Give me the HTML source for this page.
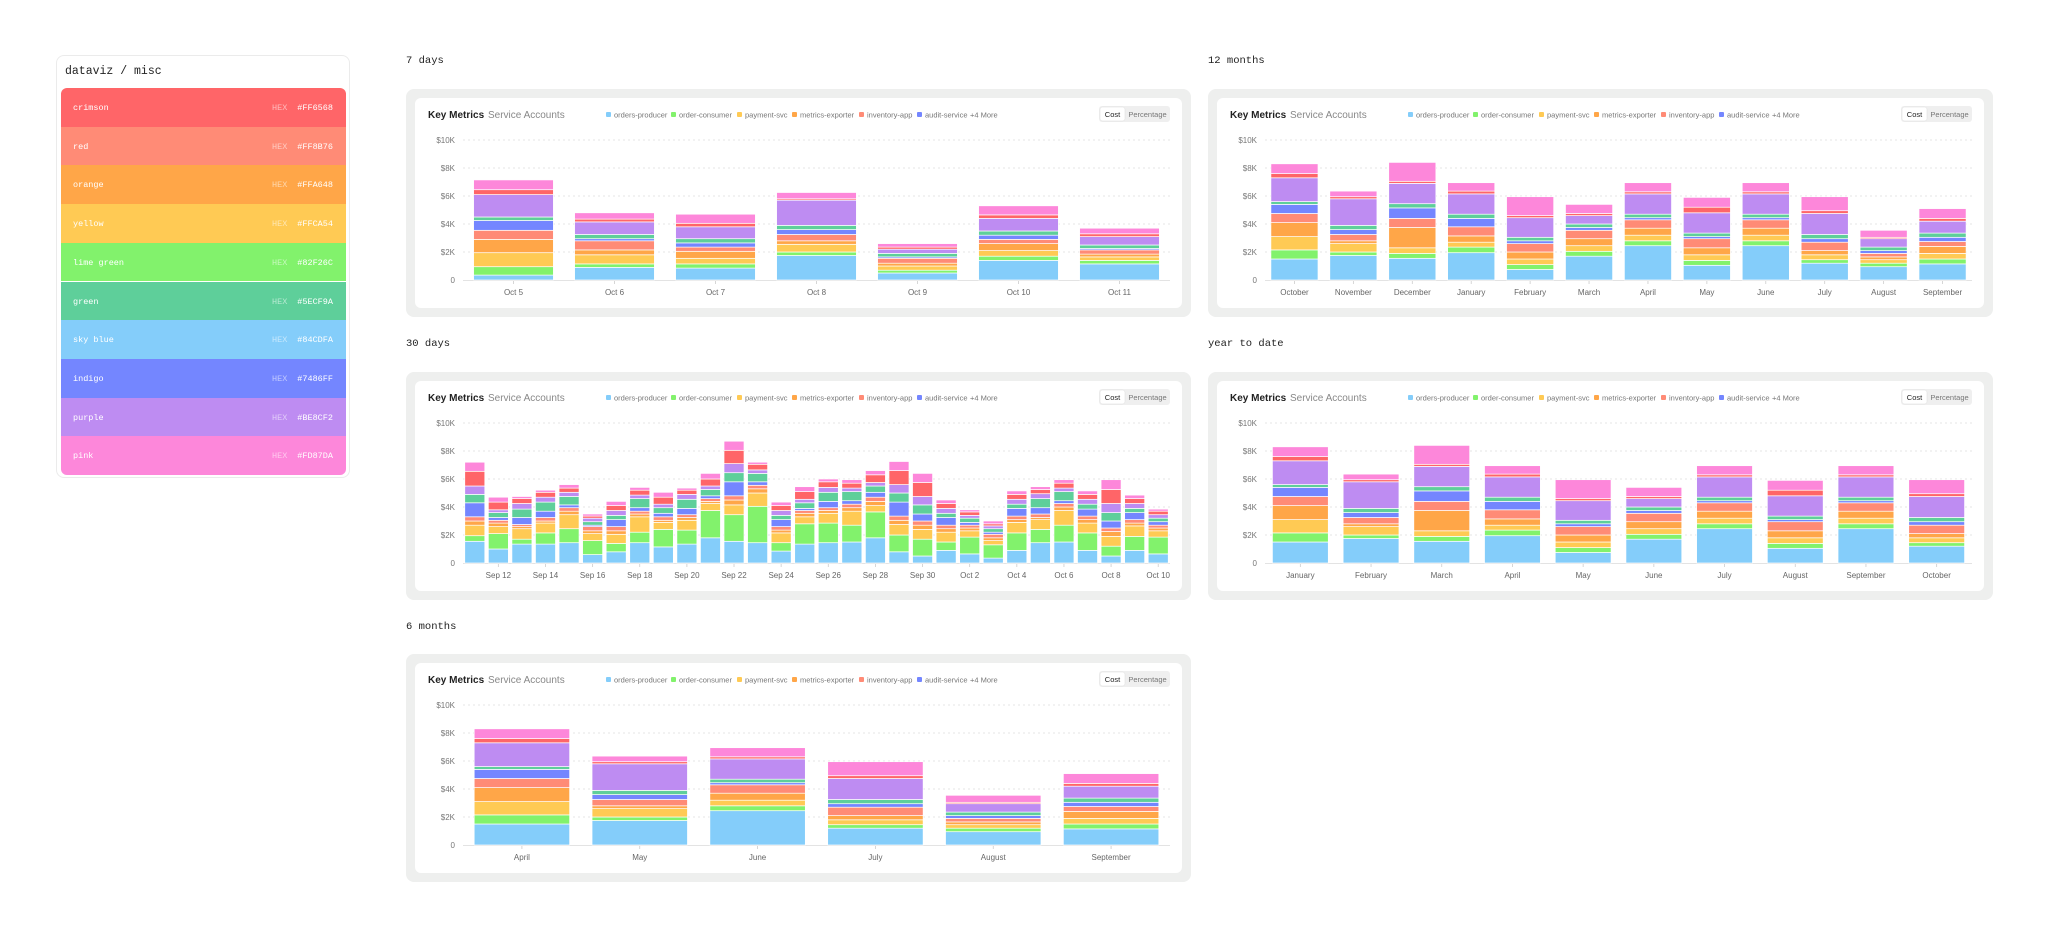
<!DOCTYPE html>
<html><head><meta charset="utf-8">
<style>
body{margin:0;width:2048px;height:939px;background:#fff;position:relative;overflow:hidden;font-family:"Liberation Sans",sans-serif}
.mono{font-family:"Liberation Mono",monospace}
#palette{position:absolute;left:56px;top:55px;width:292px;height:421px;border:1px solid #ebebeb;border-radius:8px;background:#fff}
#palette .title{position:absolute;left:8px;top:9px;font-size:11.5px;color:#222}
.sw{position:absolute;left:4px;width:285px;height:38.7px;color:#fff;font-size:8.5px}
.sw span{position:absolute;top:15px}
.sec{position:absolute;font-size:10.5px;color:#222}
.panel{position:absolute;width:785px;height:228px;background:#eeefee;border-radius:8px}
.inner{position:absolute;left:9px;top:9px;width:767px;height:210px;background:#fff;border-radius:6px}
.panel svg{position:absolute;left:0;top:0}
</style></head><body>
<div id="palette">
<div class="title mono">dataviz / misc</div>
</div>
<div class="sec mono" style="left:406px;top:55px">7 days</div>
<div class="sec mono" style="left:1208px;top:55px">12 months</div>
<div class="sec mono" style="left:406px;top:338px">30 days</div>
<div class="sec mono" style="left:1208px;top:338px">year to date</div>
<div class="sec mono" style="left:406px;top:621px">6 months</div>
<div class="panel" id="p7d" style="left:406px;top:89px"><div class="inner"></div></div>
<div class="panel" id="p12m" style="left:1208px;top:89px"><div class="inner"></div></div>
<div class="panel" id="p30d" style="left:406px;top:372px"><div class="inner"></div></div>
<div class="panel" id="pytd" style="left:1208px;top:372px"><div class="inner"></div></div>
<div class="panel" id="p6m" style="left:406px;top:654px"><div class="inner"></div></div>
<script>
const paletteNames=["crimson","red","orange","yellow","lime green","green","sky blue","indigo","purple","pink"];
const paletteHex=["#FF6568","#FF8B76","#FFA648","#FFCA54","#82F26C","#5ECF9A","#84CDFA","#7486FF","#BE8CF2","#FD87DA"];
const seriesNames=["orders-producer","order-consumer","payment-svc","metrics-exporter","inventory-app","audit-service","notify-svc","search-api","auth-gateway","cache-warmer"];
const seriesColors=["#84CDFA","#82F26C","#FFCA54","#FFA648","#FF8B76","#7486FF","#5ECF9A","#BE8CF2","#FF6568","#FD87DA"];
const yTicks=[0,2,4,6,8,10];
const yTickLabels=["0","$2K","$4K","$6K","$8K","$10K"];

const cats7d=["Oct 5","Oct 6","Oct 7","Oct 8","Oct 9","Oct 10","Oct 11"];
const d7Producer=[0.35,0.9,0.85,1.75,0.5,1.4,1.15];
const d7Consumer=[0.6,0.25,0.3,0.25,0.2,0.3,0.25];
const d7Payment=[1.0,0.65,0.4,0.55,0.3,0.4,0.25];
const d7Exporter=[0.95,0.35,0.5,0.25,0.2,0.5,0.2];
const d7Inventory=[0.65,0.65,0.3,0.45,0.35,0.3,0.3];
const d7Audit=[0.7,0.15,0.3,0.35,0.1,0.3,0.1];
const d7Notify=[0.25,0.3,0.3,0.3,0.25,0.3,0.25];
const d7Search=[1.6,0.9,0.85,1.8,0.3,0.9,0.6];
const d7Auth=[0.35,0.2,0.25,0.1,0.15,0.25,0.2];
const d7Cache=[0.7,0.45,0.65,0.45,0.25,0.65,0.4];

const cats12m=["October","November","December","January","February","March","April","May","June","July","August","September"];
const m12Producer=[1.5,1.75,1.55,1.95,0.75,1.7,2.45,1.05,2.45,1.2,0.95,1.15];
const m12Consumer=[0.65,0.25,0.35,0.4,0.35,0.35,0.35,0.35,0.35,0.25,0.25,0.35];
const m12Payment=[0.95,0.6,0.4,0.35,0.4,0.4,0.4,0.4,0.4,0.35,0.25,0.4];
const m12Exporter=[1.0,0.2,1.45,0.45,0.5,0.5,0.5,0.5,0.5,0.3,0.2,0.5];
const m12Inventory=[0.65,0.45,0.65,0.65,0.6,0.6,0.6,0.65,0.6,0.6,0.25,0.35];
const m12Audit=[0.65,0.35,0.75,0.6,0.2,0.2,0.15,0.15,0.15,0.25,0.2,0.3];
const m12Notify=[0.2,0.3,0.3,0.3,0.25,0.25,0.25,0.25,0.25,0.3,0.25,0.3];
const m12Search=[1.7,1.9,1.45,1.45,1.4,0.6,1.45,1.45,1.45,1.5,0.6,0.85];
const m12Auth=[0.3,0.15,0.15,0.2,0.15,0.15,0.15,0.4,0.15,0.2,0.1,0.2];
const m12Cache=[0.7,0.4,1.35,0.6,1.35,0.65,0.65,0.7,0.65,1.0,0.5,0.7];

const cats30d=["Sep 11","Sep 12","Sep 13","Sep 14","Sep 15","Sep 16","Sep 17","Sep 18","Sep 19","Sep 20","Sep 21","Sep 22","Sep 23","Sep 24","Sep 25","Sep 26","Sep 27","Sep 28","Sep 29","Sep 30","Oct 1","Oct 2","Oct 3","Oct 4","Oct 5","Oct 6","Oct 7","Oct 8","Oct 9","Oct 10"];
const d30Producer=[1.55,1.0,1.35,1.35,1.45,0.6,0.8,1.45,1.15,1.35,1.8,1.55,1.45,0.85,1.35,1.45,1.5,1.8,0.8,0.5,0.9,0.65,0.35,0.9,1.45,1.5,0.9,0.5,0.9,0.65];
const d30Consumer=[0.4,1.1,0.35,0.8,1.0,1.0,0.6,0.75,1.25,1.0,1.95,1.9,2.6,0.6,1.45,1.4,1.2,1.85,1.2,1.2,0.6,1.2,0.95,1.25,0.95,1.2,1.25,0.7,1.0,1.2];
const d30Payment=[0.75,0.5,0.75,0.7,1.0,0.5,0.65,1.1,0.5,0.7,0.5,0.7,0.95,0.7,0.5,0.7,1.0,0.45,0.75,0.7,0.7,0.45,0.3,0.75,0.7,1.05,0.7,0.7,0.75,0.45];
const d30Exporter=[0.3,0.25,0.15,0.15,0.25,0.2,0.25,0.2,0.15,0.2,0.15,0.35,0.3,0.2,0.25,0.2,0.25,0.3,0.3,0.3,0.25,0.2,0.2,0.2,0.15,0.25,0.25,0.35,0.2,0.2];
const d30Inventory=[0.3,0.2,0.15,0.25,0.25,0.3,0.3,0.2,0.25,0.2,0.2,0.3,0.25,0.25,0.2,0.2,0.25,0.3,0.3,0.3,0.25,0.2,0.25,0.25,0.25,0.25,0.25,0.25,0.25,0.2];
const d30Audit=[1.0,0.2,0.5,0.45,0.2,0.1,0.5,0.25,0.25,0.45,0.2,1.0,0.25,0.5,0.15,0.45,0.25,0.35,1.0,0.5,0.55,0.2,0.15,0.55,0.45,0.2,0.5,0.5,0.5,0.25];
const d30Notify=[0.6,0.35,0.6,0.65,0.6,0.25,0.3,0.65,0.4,0.65,0.45,0.65,0.6,0.3,0.4,0.65,0.65,0.45,0.65,0.65,0.3,0.3,0.25,0.3,0.65,0.65,0.35,0.6,0.3,0.25];
const d30Search=[0.6,0.2,0.4,0.35,0.3,0.25,0.35,0.25,0.25,0.35,0.25,0.65,0.25,0.35,0.25,0.35,0.25,0.25,0.6,0.6,0.35,0.2,0.2,0.35,0.35,0.25,0.35,0.65,0.35,0.25];
const d30Auth=[1.05,0.55,0.35,0.35,0.3,0.15,0.35,0.35,0.5,0.3,0.5,0.95,0.4,0.35,0.55,0.4,0.35,0.55,1.0,1.0,0.35,0.25,0.15,0.35,0.3,0.35,0.35,1.0,0.35,0.25];
const d30Cache=[0.65,0.35,0.15,0.15,0.25,0.15,0.3,0.2,0.35,0.15,0.4,0.65,0.15,0.25,0.35,0.2,0.25,0.3,0.65,0.65,0.25,0.15,0.2,0.25,0.2,0.25,0.25,0.7,0.25,0.15];
const ticks30d=["Sep 12","Sep 14","Sep 16","Sep 18","Sep 20","Sep 22","Sep 24","Sep 26","Sep 28","Sep 30","Oct 2","Oct 4","Oct 6","Oct 8","Oct 10"];

const catsYtd=["January","February","March","April","May","June","July","August","September","October"];
const ytdProducer=[1.5,1.75,1.55,1.95,0.75,1.7,2.45,1.05,2.45,1.2];
const ytdConsumer=[0.65,0.25,0.35,0.4,0.35,0.35,0.35,0.35,0.35,0.25];
const ytdPayment=[0.95,0.6,0.4,0.35,0.4,0.4,0.4,0.4,0.4,0.35];
const ytdExporter=[1.0,0.2,1.45,0.45,0.5,0.5,0.5,0.5,0.5,0.3];
const ytdInventory=[0.65,0.45,0.65,0.65,0.6,0.6,0.6,0.65,0.6,0.6];
const ytdAudit=[0.65,0.35,0.75,0.6,0.2,0.2,0.15,0.15,0.15,0.25];
const ytdNotify=[0.2,0.3,0.3,0.3,0.25,0.25,0.25,0.25,0.25,0.3];
const ytdSearch=[1.7,1.9,1.45,1.45,1.4,0.6,1.45,1.45,1.45,1.5];
const ytdAuth=[0.3,0.15,0.15,0.2,0.15,0.15,0.15,0.4,0.15,0.2];
const ytdCache=[0.7,0.4,1.35,0.6,1.35,0.65,0.65,0.7,0.65,1.0];

const cats6m=["April","May","June","July","August","September"];
const m6Producer=[1.5,1.75,2.45,1.2,0.95,1.15];
const m6Consumer=[0.65,0.25,0.35,0.25,0.25,0.35];
const m6Payment=[0.95,0.6,0.4,0.35,0.25,0.4];
const m6Exporter=[1.0,0.2,0.5,0.3,0.2,0.5];
const m6Inventory=[0.65,0.45,0.6,0.6,0.25,0.35];
const m6Audit=[0.65,0.35,0.15,0.25,0.2,0.3];
const m6Notify=[0.2,0.3,0.25,0.3,0.25,0.3];
const m6Search=[1.7,1.9,1.45,1.5,0.6,0.85];
const m6Auth=[0.3,0.15,0.15,0.2,0.1,0.2];
const m6Cache=[0.7,0.4,0.65,1.0,0.5,0.7];

const NS="http://www.w3.org/2000/svg";
function mk(tag,attrs,parent){const e=document.createElementNS(NS,tag);for(const k in attrs)e.setAttribute(k,attrs[k]);if(parent)parent.appendChild(e);return e;}

const pal=document.getElementById('palette');
paletteNames.forEach((n,i)=>{
  const d=document.createElement('div');
  d.className='sw mono';
  
  
  d.style.top=(32+i*38.7)+'px';
  d.style.background=paletteHex[i];
  if(i===0)d.style.borderRadius='6px 6px 0 0';
  if(i===9)d.style.borderRadius='0 0 6px 6px';
  d.innerHTML='<span style="left:12px">'+n+'</span><span style="left:211px;opacity:.55">HEX</span><span style="right:13px">'+paletteHex[i]+'</span>';
  pal.appendChild(d);
});

const L=57,R=764,Y0=191,Y10=51;
function yS(v){return Y0-(v/10)*(Y0-Y10);}
function render(id,cats,series,ticks,ratio){
  const p=document.getElementById(id);
  const svg=mk('svg',{width:785,height:228},p);
  
  
  let t=mk('text',{x:22,y:29,'font-size':10,'font-weight':'bold',fill:'#222'},svg);t.textContent='Key Metrics';
  
  
  t=mk('text',{x:82,y:29,'font-size':10,fill:'#888'},svg);t.textContent='Service Accounts';
  
  
  const lx=[200,265,331,386,453,511];
  for(let i=0;i<6;i++){
    const g=mk('g',{},svg);
    
    
    mk('rect',{x:lx[i],y:23,width:5,height:5,rx:1,fill:seriesColors[i]},g);
    const tt=mk('text',{x:lx[i]+8,y:28.5,'font-size':7.5,fill:'#777'},g);tt.textContent=seriesNames[i];
  }
  t=mk('text',{x:564,y:28.5,'font-size':7.5,fill:'#777'},svg);t.textContent='+4 More';
  
  
  mk('rect',{x:693,y:17,width:71,height:16,rx:3,fill:'#efefef'},svg);
  const cb=mk('rect',{x:694,y:18,width:25,height:14,rx:2.5,fill:'#fff',stroke:'#ddd','stroke-width':0.5},svg);
  
  
  t=mk('text',{x:706.5,y:28,'font-size':7.5,fill:'#222','text-anchor':'middle'},svg);t.textContent='Cost';
  t=mk('text',{x:741.5,y:28,'font-size':7.5,fill:'#777','text-anchor':'middle'},svg);t.textContent='Percentage';
  
  
  yTicks.forEach((v,i)=>{
    const y=yS(v);
    if(v>0){const gl=mk('line',{x1:L,x2:R,y1:y,y2:y,stroke:'#dcdcdc','stroke-dasharray':'2,3','stroke-width':0.8},svg);
      
      }
    const lb=mk('text',{x:49,y:y+3,'font-size':8,fill:'#777','text-anchor':'end'},svg);lb.textContent=yTickLabels[i];
    
    
  });
  mk('line',{x1:L,x2:R,y1:Y0+0.5,y2:Y0+0.5,stroke:'#e3e3e3','stroke-width':1},svg);
  const slot=(R-L)/cats.length,bw=slot*ratio;
  cats.forEach((c,ci)=>{
    const cx=L+slot*(ci+0.5);
    let acc=0;
    series.forEach((s,si)=>{
      const v=s[ci];const y1=yS(acc),y2=yS(acc+v);acc+=v;
      const r=mk('rect',{x:cx-bw/2,y:y2,width:bw,height:Math.max(0,y1-y2),fill:seriesColors[si],stroke:'#fff','stroke-width':0.7},svg);
      
      
    });
    if(ticks.indexOf(c)>=0){
      mk('line',{x1:cx,x2:cx,y1:Y0+1,y2:Y0+4,stroke:'#ccc','stroke-width':0.8},svg);
      const xl=mk('text',{x:cx,y:206,'font-size':8,fill:'#666','text-anchor':'middle'},svg);xl.textContent=c;
      
      
    }
  });
}
render('p7d',cats7d,[d7Producer,d7Consumer,d7Payment,d7Exporter,d7Inventory,d7Audit,d7Notify,d7Search,d7Auth,d7Cache],cats7d,0.79);
render('p12m',cats12m,[m12Producer,m12Consumer,m12Payment,m12Exporter,m12Inventory,m12Audit,m12Notify,m12Search,m12Auth,m12Cache],cats12m,0.8);
render('p30d',cats30d,[d30Producer,d30Consumer,d30Payment,d30Exporter,d30Inventory,d30Audit,d30Notify,d30Search,d30Auth,d30Cache],ticks30d,0.85);
render('pytd',catsYtd,[ytdProducer,ytdConsumer,ytdPayment,ytdExporter,ytdInventory,ytdAudit,ytdNotify,ytdSearch,ytdAuth,ytdCache],catsYtd,0.79);
render('p6m',cats6m,[m6Producer,m6Consumer,m6Payment,m6Exporter,m6Inventory,m6Audit,m6Notify,m6Search,m6Auth,m6Cache],cats6m,0.81);
</script>
</body></html>
